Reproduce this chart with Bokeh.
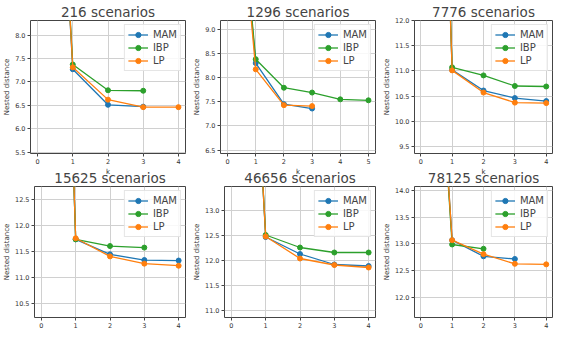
from bokeh.plotting import figure
from bokeh.layouts import column, row
from bokeh.models import Range1d, SingleIntervalTicker, PrintfTickFormatter
from bokeh.embed import file_html
from bokeh.resources import INLINE

# ---- data (k = 0, 1, 2, ...) ----
titles = ["216 scenarios", "1296 scenarios", "7776 scenarios",
          "15625 scenarios", "46656 scenarios", "78125 scenarios"]
series_names = ["MAM", "IBP", "LP"]

s216_mam = [20.8, 7.27, 6.51, 6.47]
s216_ibp = [20.8, 7.37, 6.82, 6.81]
s216_lp = [20.8, 7.31, 6.62, 6.46, 6.46]

s1296_mam = [14.6, 8.30, 7.45, 7.36]
s1296_ibp = [14.6, 8.38, 7.79, 7.69, 7.55, 7.53]
s1296_lp = [14.6, 8.17, 7.43, 7.41]

s7776_mam = [30.0, 11.02, 10.61, 10.46, 10.40]
s7776_ibp = [30.0, 11.07, 10.91, 10.70, 10.69]
s7776_lp = [30.0, 11.01, 10.57, 10.37, 10.36]

s15625_mam = [32.0, 11.73, 11.44, 11.33, 11.32]
s15625_ibp = [32.0, 11.73, 11.60, 11.57]
s15625_lp = [32.0, 11.75, 11.40, 11.26, 11.22]

s46656_mam = [25.0, 12.46, 12.12, 11.91, 11.88]
s46656_ibp = [25.0, 12.50, 12.25, 12.15, 12.15]
s46656_lp = [25.0, 12.47, 12.03, 11.90, 11.85]

s78125_mam = [22.0, 13.07, 12.77, 12.72]
s78125_ibp = [22.0, 12.99, 12.91]
s78125_lp = [22.0, 13.07, 12.81, 12.63, 12.62]

panel_series = [
    [s216_mam, s216_ibp, s216_lp],
    [s1296_mam, s1296_ibp, s1296_lp],
    [s7776_mam, s7776_ibp, s7776_lp],
    [s15625_mam, s15625_ibp, s15625_lp],
    [s46656_mam, s46656_ibp, s46656_lp],
    [s78125_mam, s78125_ibp, s78125_lp],
]

# axis limits (view settings)
x_limits = [(-0.2, 4.2), (-0.25, 5.25), (-0.2, 4.2),
            (-0.2, 4.2), (-0.2, 4.2), (-0.2, 4.2)]
y_limits = [(5.47, 8.31), (6.43, 9.18), (9.36, 12.0),
            (10.22, 12.75), (10.85, 13.47), (11.63, 14.07)]

colors = ["#1f77b4", "#2ca02c", "#ff7f0e"]
FONT = "DejaVu Sans"

widths = [190, 190, 175]
right_borders = [5, 5, 3]


def make_panel(i):
    top_row = i < 3
    col = i % 3
    p = figure(width=widths[col], height=178 if top_row else 164,
               output_backend="svg", toolbar_location=None,
               x_range=Range1d(*x_limits[i]), y_range=Range1d(*y_limits[i]),
               min_border_left=27, min_border_right=right_borders[col],
               min_border_top=0, min_border_bottom=0)
    p.title.text = titles[i]
    p.title.align = "center"
    p.title.text_font = FONT
    p.title.text_font_size = "13.5px"
    p.title.text_font_style = "normal"
    p.title.standoff = 2
    p.title.offset = 0

    for name, vals, c in zip(series_names, panel_series[i], colors):
        ks = list(range(len(vals)))
        p.line(ks, vals, line_color=c, line_width=1.3, legend_label=name)
        p.scatter(ks, vals, marker="circle", size=5, fill_color=c,
                  line_color=c, legend_label=name)

    p.xaxis.ticker = SingleIntervalTicker(interval=1, num_minor_ticks=0)
    p.yaxis.ticker = SingleIntervalTicker(interval=0.5, num_minor_ticks=0)
    p.yaxis.formatter = PrintfTickFormatter(format="%.1f")
    p.yaxis.axis_label = "Nested distance"
    if top_row:
        p.xaxis.axis_label = "k"
    for ax in (p.xaxis, p.yaxis):
        ax.axis_line_color = None
        ax.major_tick_out = 3
        ax.major_tick_in = 0
        ax.major_tick_line_color = "#444444"
        ax.major_label_text_font = FONT
        ax.major_label_text_font_size = "6.5px"
        ax.major_label_text_color = "#333333"
        ax.major_label_standoff = 2
        ax.axis_label_text_font = FONT
        ax.axis_label_text_font_size = "7px"
        ax.axis_label_text_font_style = "normal"
        ax.axis_label_text_color = "#333333"
        ax.axis_label_standoff = 1
    p.outline_line_color = "#444444"
    p.outline_line_width = 1
    p.grid.grid_line_color = "#d0d0d0"
    p.grid.grid_line_width = 1
    p.background_fill_color = "white"
    if not top_row:
        p.border_fill_alpha = 0

    lg = p.legend[0]
    lg.location = "top_right"
    lg.margin = 4
    lg.padding = 3
    lg.spacing = 0
    lg.label_height = 13
    lg.glyph_height = 13
    lg.glyph_width = 20
    lg.label_standoff = 5
    lg.label_text_font = FONT
    lg.label_text_font_size = "10px"
    lg.border_line_color = "#cccccc"
    lg.border_line_width = 1
    lg.background_fill_alpha = 0.85
    return p


panels = [make_panel(i) for i in range(6)]
top = row(*panels[:3])
bottom = row(*panels[3:], margin=(-12, 0, -8, 0))
layout = column(top, bottom)

open("out.html", "w").write(file_html(layout, INLINE))
